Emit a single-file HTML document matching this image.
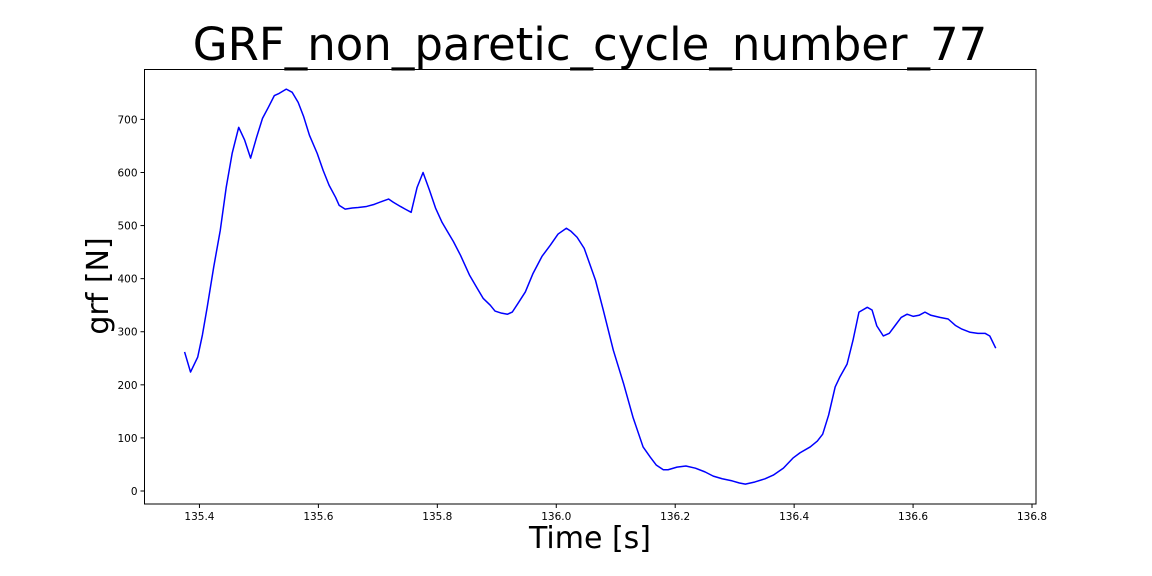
<!DOCTYPE html>
<html><head><meta charset="utf-8"><style>
html,body{margin:0;padding:0;background:#fff;}
svg{display:block;font-family:"DejaVu Sans","Liberation Sans",sans-serif;}
</style></head><body>
<svg id="chart" width="1152" height="576" viewBox="0 0 1152 576" xmlns="http://www.w3.org/2000/svg">
<rect x="0" y="0" width="1152" height="576" fill="#fff"/>
<text x="590" y="60" font-size="45" text-anchor="middle" fill="#000">GRF_non_paretic_cycle_number_77</text>
<text x="590" y="548" font-size="30" text-anchor="middle" fill="#000">Time [s]</text>
<text x="0" y="0" font-size="30" text-anchor="middle" fill="#000" transform="translate(108,286) rotate(-90)">grf [N]</text>
<g id="ticks"></g>
<polyline id="line" fill="none" stroke="#0000ff" stroke-width="1.5" stroke-linejoin="round"/>
<rect x="144.5" y="69.5" width="891.5" height="434.5" fill="none" stroke="#000" stroke-width="1"/>
</svg>
<script>
const times = [135.375,135.385,135.397,135.405,135.413,135.424,135.435,135.445,135.455,135.466,135.476,135.486,135.496,135.506,135.516,135.526,135.534,135.546,135.556,135.566,135.575,135.585,135.598,135.608,135.618,135.629,135.635,135.645,135.657,135.667,135.681,135.694,135.708,135.718,135.726,135.738,135.746,135.756,135.766,135.776,135.787,135.797,135.808,135.818,135.827,135.839,135.854,135.867,135.877,135.889,135.897,135.908,135.918,135.926,135.936,135.948,135.961,135.976,135.990,136.003,136.017,136.025,136.035,136.047,136.054,136.066,136.079,136.096,136.113,136.129,136.146,136.158,136.168,136.180,136.188,136.203,136.218,136.234,136.250,136.264,136.279,136.296,136.308,136.318,136.334,136.351,136.365,136.382,136.398,136.410,136.427,136.439,136.448,136.458,136.469,136.477,136.489,136.499,136.509,136.523,136.531,136.539,136.550,136.560,136.570,136.580,136.590,136.600,136.610,136.620,136.630,136.645,136.659,136.671,136.682,136.696,136.709,136.721,136.729,136.739];
const grf = [262,224,252,294,346,422,491,572,636,685,661,627,666,702,723,745,749,757,751,732,706,670,636,604,576,553,538,531,533,534,536,540,546,550,544,536,531,525,572,600,566,533,506,487,470,444,407,382,363,350,339,335,333,337,354,375,410,442,463,484,495,489,478,457,435,397,341,265,203,139,83,64,49,40,40,45,47,43,36,28,23,19,15,13,17,23,30,43,62,72,83,94,107,143,196,215,239,284,337,346,341,311,292,297,312,327,333,329,331,337,331,327,324,312,305,299,297,297,292,269];
const xTicks = [135.4,135.6,135.8,136.0,136.2,136.4,136.6,136.8];
const xTickLabels = ["135.4","135.6","135.8","136.0","136.2","136.4","136.6","136.8"];
const yTicks = [0,100,200,300,400,500,600,700];
const yTickLabels = ["0","100","200","300","400","500","600","700"];

const X0=144.5, X1=1036, Y0=504, Y1=69.5;
const xMin=135.3076, xMax=136.8067, yMin=-24.5, yMax=794;
function sx(t){return X0+(t-xMin)/(xMax-xMin)*(X1-X0);}
function sy(v){return Y0-(v-yMin)/(yMax-yMin)*(Y0-Y1);}

const line=document.getElementById('line');
line.setAttribute('points', times.map((t,i)=>sx(t).toFixed(2)+','+sy(grf[i]).toFixed(2)).join(' '));

const NS='http://www.w3.org/2000/svg';
const g=document.getElementById('ticks');
xTicks.forEach((t,i)=>{
  const x=sx(t);
  const l=document.createElementNS(NS,'line');
  
  
  l.setAttribute('x1',x);l.setAttribute('x2',x);l.setAttribute('y1',Y0);l.setAttribute('y2',Y0+4);
  l.setAttribute('stroke','#000');
  g.appendChild(l);
  const tx=document.createElementNS(NS,'text');
  
  
  tx.setAttribute('x',x);tx.setAttribute('y',Y0+16);
  tx.setAttribute('font-size','10.5');tx.setAttribute('text-anchor','middle');
  tx.textContent=xTickLabels[i];
  g.appendChild(tx);
});
yTicks.forEach((v,i)=>{
  const y=sy(v);
  const l=document.createElementNS(NS,'line');
  
  
  l.setAttribute('x1',X0-4);l.setAttribute('x2',X0);l.setAttribute('y1',y);l.setAttribute('y2',y);
  l.setAttribute('stroke','#000');
  g.appendChild(l);
  const tx=document.createElementNS(NS,'text');
  
  
  tx.setAttribute('x',X0-7);tx.setAttribute('y',y+4);
  tx.setAttribute('font-size','10.5');tx.setAttribute('text-anchor','end');
  tx.textContent=yTickLabels[i];
  g.appendChild(tx);
});
</script>
</body></html>
